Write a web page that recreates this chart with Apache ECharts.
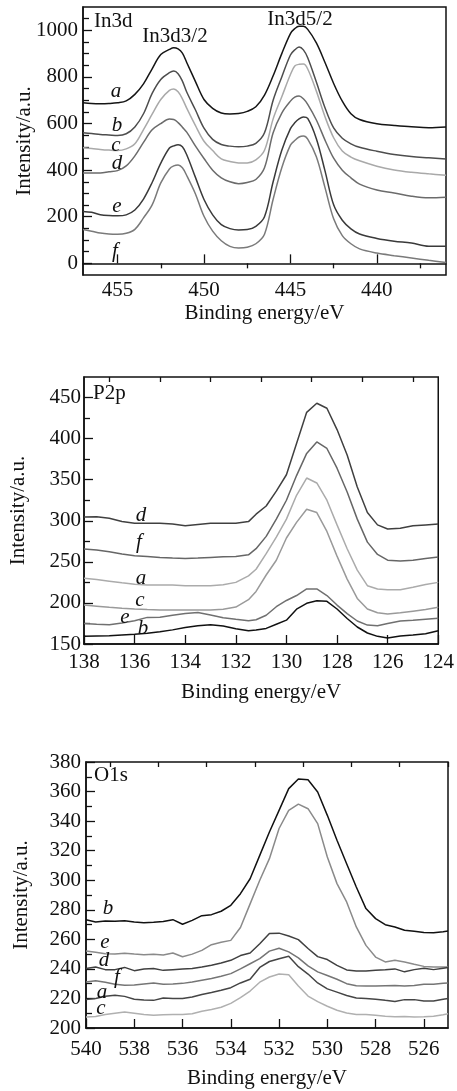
<!DOCTYPE html>
<html><head><meta charset="utf-8">
<script src="https://cdn.jsdelivr.net/npm/echarts@6/dist/echarts.min.js"></script>
<style>html,body{margin:0;padding:0;background:#fff}#c{width:457px;height:1091px}</style>
</head><body><div id="c"></div>
<script>
// ---------- Panel 1: In3d ----------
const inEnergy = [457, 456.5, 456, 455.5, 455, 454.5, 454, 453.5, 453, 452.5, 452, 451.75, 451.5, 451.25, 451, 450.5, 450, 449.5, 449, 448.5, 448, 447.5, 447, 446.5, 446, 445.5, 445, 444.75, 444.5, 444.25, 444, 443.5, 443, 442.5, 442, 441.5, 441, 440, 439, 438, 437, 436];
const inA = [689, 686, 685, 686, 689, 697, 725, 770, 835, 896, 918, 925, 920, 902, 862, 781, 703, 665, 645, 641, 643, 652, 672, 722, 805, 900, 986, 1007, 1017, 1017, 1004, 946, 862, 772, 696, 642, 617, 599, 592, 586, 582, 585];
const inB = [560, 557, 553, 551, 549, 556, 585, 642, 729, 789, 818, 825, 814, 782, 735, 659, 580, 532, 510, 503, 500, 503, 515, 560, 700, 800, 894, 916, 928, 916, 882, 778, 668, 581, 537, 513, 498, 481, 467, 458, 453, 448];
const inC = [496, 493, 489, 486, 484, 491, 513, 574, 640, 703, 742, 748, 736, 706, 666, 592, 524, 484, 448, 437, 431, 431, 444, 485, 620, 715, 810, 847, 854, 855, 834, 739, 629, 539, 482, 456, 440, 417, 401, 391, 384, 378];
const inD = [388, 388, 388, 393, 398, 418, 461, 519, 573, 600, 619, 617, 604, 584, 563, 504, 450, 400, 367, 350, 342, 347, 360, 410, 560, 645, 696, 713, 718, 706, 682, 615, 529, 451, 400, 367, 340, 315, 302, 288, 281, 284];
const inE = [223, 219, 209, 205, 204, 208, 229, 276, 347, 430, 495, 504, 509, 500, 466, 370, 274, 208, 166, 149, 143, 145, 159, 200, 350, 485, 578, 603, 620, 628, 622, 535, 397, 251, 185, 148, 126, 107, 95, 87, 73, 73];
const inF = [145, 138, 130, 126, 125, 129, 146, 195, 251, 345, 405, 418, 422, 410, 377, 299, 202, 138, 97, 73, 66, 69, 84, 125, 275, 410, 507, 527, 542, 546, 533, 457, 325, 191, 119, 84, 62, 44, 33, 23, 13, 4];
const inXLabels = [455, 450, 445, 440];
const inXMinor = [452.5, 447.5, 442.5, 437.5];
const inYLabels = [0, 200, 400, 600, 800, 1000];
const inYMinor = [50, 100, 150, 250, 300, 350, 450, 500, 550, 650, 700, 750, 850, 900, 950, 1050];

// ---------- Panel 2: P2p ----------
const pEnergy = [138, 137.5, 137, 136.5, 136, 135.5, 135, 134.5, 134, 133.5, 133, 132.5, 132, 131.5, 131.2, 130.8, 130.4, 130, 129.6, 129.2, 128.8, 128.4, 128, 127.6, 127.2, 126.8, 126.4, 126, 125.5, 125, 124.5, 124];
const pD = [304.5, 305, 303, 299, 297, 297, 297, 296, 294, 295.5, 297, 297, 297, 299, 308, 318, 336, 356, 394, 432, 443, 437, 411, 380, 341, 310, 295, 290, 291, 294, 295, 296];
const pF = [265.5, 264.3, 262.3, 259.5, 257.4, 256.6, 255.4, 254.6, 254.2, 254.6, 255.4, 256.2, 256.6, 258.5, 266, 281, 302, 325, 355, 382, 396, 388, 364, 335, 302, 274, 259, 252, 251, 252, 254, 256];
const pA = [229.9, 228.5, 226.5, 224.5, 222.7, 221.8, 221.8, 221.8, 221, 221, 221, 222, 225, 233, 241, 260, 280, 302, 331, 352, 346, 325, 295, 266, 240, 221, 217, 216, 216, 219, 222.5, 225];
const pC = [197.4, 196, 194.6, 193.4, 192.6, 192, 191.5, 191.4, 191.4, 191.4, 191.4, 192.4, 195, 204, 214, 234, 252, 279, 298, 314, 310, 287, 257, 229, 205.5, 192.6, 188, 186.5, 188, 190, 192, 194.6];
const pE = [175, 174, 173.5, 175.5, 178.4, 182.4, 182.5, 185, 187, 188.3, 185.3, 182, 180, 178.4, 179.5, 185, 195.4, 203, 209, 217, 217, 209, 197.4, 187, 178, 173, 172.3, 175, 178, 178.8, 180, 181.2];
const pB = [159.3, 159.7, 160.1, 161, 161.8, 163, 165, 167.2, 170, 172.3, 173.5, 171.8, 168.5, 166.2, 167, 169, 174, 179, 192.4, 199.5, 202.7, 202, 192.6, 181, 170.7, 163.4, 159.3, 157.3, 159.7, 161, 162.6, 166.2];
const pXLabels = [138, 136, 134, 132, 130, 128, 126, 124];
const pXMinor = [137, 135, 133, 131, 129, 127, 125];
const pYLabels = [150, 200, 250, 300, 350, 400, 450];
const pYMinor = [175, 225, 275, 325, 375, 425];

// ---------- Panel 3: O1s ----------
const oEnergy = [540, 539.6, 539.2, 538.8, 538.4, 538, 537.6, 537.2, 536.8, 536.4, 536, 535.6, 535.2, 534.8, 534.4, 534, 533.6, 533.2, 532.8, 532.4, 532, 531.6, 531.2, 530.8, 530.4, 530, 529.6, 529.2, 528.8, 528.4, 528, 527.6, 527.2, 526.8, 526.4, 526, 525.6, 525.2, 525];
const oB = [273.3, 271.8, 272.4, 272.2, 272.6, 271.8, 271.3, 271.5, 272, 273.3, 270.2, 272.8, 276, 276.7, 279, 283, 290.9, 301, 316.8, 332.6, 347.3, 362, 368.5, 368, 359.7, 343.9, 327, 311.2, 295.4, 280.8, 274, 269.9, 268.4, 266.1, 265.4, 264.7, 264.5, 265.2, 265.6];
const oE = [252.1, 251.2, 250.3, 250, 250.6, 250, 249.5, 249.9, 249.4, 250.8, 248.2, 250, 252.5, 256.4, 258, 259.3, 268, 284, 300, 314.6, 335, 347.3, 351.5, 348.4, 338.3, 315.7, 297.7, 285.3, 268.4, 255.9, 248, 244.7, 245.8, 244.7, 243.1, 241.7, 241.3, 241.3, 241.3];
const oD = [240.2, 241.3, 239.5, 239.5, 241, 238.8, 240, 240.2, 239, 239.5, 240, 240.2, 241.3, 242.5, 244, 245.8, 249, 250.8, 257, 264, 264.2, 262.3, 259.8, 253.8, 248.3, 246.3, 242.4, 239.3, 238.6, 238.6, 239, 239.4, 240, 238, 239.5, 240.5, 239.5, 240.5, 241];
const oF = [231.1, 232, 231, 229.6, 229, 229.1, 229.8, 230.4, 229.6, 229.8, 230.2, 231.1, 232.3, 233.5, 235, 236.8, 240, 243.5, 247, 252, 254, 251.5, 247.5, 242, 238, 235.5, 233, 230, 228.6, 228.4, 228.4, 228.6, 228.8, 228.4, 228.8, 229.6, 229.6, 230.2, 230.5];
const oA = [219.2, 219.9, 221.5, 222.1, 221.4, 219.5, 219, 218.7, 220.3, 219.9, 220, 221, 222.6, 224, 225.5, 227.3, 230.5, 233, 241, 245, 246.9, 248.5, 241.5, 236.5, 230.5, 226.5, 224.3, 222, 220.3, 219.9, 219.5, 218.7, 218, 219.2, 219.2, 218.2, 218.2, 219.5, 220];
const oC = [207.4, 207.8, 209.2, 210, 210.8, 210, 209.2, 208.6, 209, 209.2, 209.2, 209.7, 211.3, 212.5, 214, 216.7, 220.6, 225, 231, 234.5, 236.5, 236, 228.4, 221.6, 217.8, 214.7, 212, 210.2, 209.2, 209.2, 208.6, 208, 207.6, 207.8, 207.4, 207.6, 208, 209, 209.7];
const oXLabels = [540, 538, 536, 534, 532, 530, 528, 526];
const oXMinor = [539, 537, 535, 533, 531, 529, 527, 525];
const oYLabels = [200, 220, 240, 260, 280, 300, 320, 340, 360, 380];
const oYMinor = [210, 230, 250, 270, 290, 310, 330, 350, 370];

// ---------- Build chart ----------
const FONT = '"Liberation Serif", "Times New Roman", serif';
const INK = '#111';
const FS = 21;
const chart = echarts.init(document.getElementById('c'), null, {renderer: 'canvas'});

const panels = [
  {grid: {left: 83, top: 7, width: 363, height: 268}, xr: [436, 457], yr: [-50, 1100],
   xl: inXLabels, xm: inXMinor, yl: inYLabels, ym: inYMinor, xMargin: 5, yMargin: 5, xGap: 28, yGap: 48},
  {grid: {left: 78, top: 377, width: 363, height: 267}, xr: [124, 138], yr: [150, 475],
   xl: pXLabels, xm: pXMinor, yl: pYLabels, ym: pYMinor, xMargin: 8, yMargin: 3, xGap: 38, yGap: 55},
  {grid: {left: 86, top: 762, width: 362, height: 266}, xr: [525, 540], yr: [200, 380],
   xl: oXLabels, xm: oXMinor, yl: oYLabels, ym: oYMinor, xMargin: 11, yMargin: 5, xGap: 40, yGap: 54}
];

const fmt = v => String(v);
const grids = [], xAxes = [], yAxes = [];
panels.forEach((p, i) => {
  grids.push(Object.assign({show: true, borderColor: INK, borderWidth: 1.5, backgroundColor: '#fff'}, p.grid));
  xAxes.push({
    type: 'value', gridIndex: i, min: p.xr[0], max: p.xr[1], inverse: true,
    axisLine: {show: true, lineStyle: {color: INK, width: 1.5}},
    axisTick: {show: true, inside: true, length: 9, customValues: p.xl, lineStyle: {color: INK, width: 1.3}},
    axisLabel: {show: true, customValues: p.xl, formatter: fmt, margin: p.xMargin, color: INK, fontFamily: FONT, fontSize: FS},
    splitLine: {show: false},
    name: 'Binding energy/eV', nameLocation: 'middle', nameGap: p.xGap, nameMoveOverlap: false,
    nameTextStyle: {color: INK, fontFamily: FONT, fontSize: FS}
  });
  xAxes.push({
    type: 'value', gridIndex: i, min: p.xr[0], max: p.xr[1], inverse: true,
    axisLine: {show: false},
    axisTick: {show: true, inside: true, length: 5, customValues: p.xm, lineStyle: {color: INK, width: 1.3}},
    axisLabel: {show: false}, splitLine: {show: false}
  });
  yAxes.push({
    type: 'value', gridIndex: i, min: p.yr[0], max: p.yr[1], position: 'left',
    axisLine: {show: true, lineStyle: {color: INK, width: 1.5}},
    axisTick: {show: true, inside: true, length: 9, customValues: p.yl, lineStyle: {color: INK, width: 1.3}},
    axisLabel: {show: true, customValues: p.yl, formatter: fmt, margin: p.yMargin, color: INK, fontFamily: FONT, fontSize: FS},
    splitLine: {show: false},
    name: 'Intensity/a.u.', nameLocation: 'middle', nameGap: p.yGap, nameMoveOverlap: false,
    nameTextStyle: {color: INK, fontFamily: FONT, fontSize: FS}
  });
  yAxes.push({
    type: 'value', gridIndex: i, min: p.yr[0], max: p.yr[1], position: 'left',
    axisLine: {show: false},
    axisTick: {show: true, inside: true, length: 6, customValues: p.ym, lineStyle: {color: INK, width: 1.3}},
    axisLabel: {show: false}, splitLine: {show: false}
  });
});

function mk(xs, ys, panel, color, smooth) {
  return {
    type: 'line', xAxisIndex: panel * 2, yAxisIndex: panel * 2,
    data: xs.map((x, k) => [x, ys[k]]),
    showSymbol: false, symbol: 'none', smooth: smooth,
    lineStyle: {color: color, width: 1.5}, silent: true, animation: false, z: 3
  };
}

const series = [
  mk(inEnergy, inA, 0, '#151515', 0.35),
  mk(inEnergy, inB, 0, '#4d4d4d', 0.35),
  mk(inEnergy, inC, 0, '#a9a9a9', 0.35),
  mk(inEnergy, inD, 0, '#6b6b6b', 0.35),
  mk(inEnergy, inE, 0, '#3a3a3a', 0.35),
  mk(inEnergy, inF, 0, '#7a7a7a', 0.35),
  mk(pEnergy, pD, 1, '#404040', false),
  mk(pEnergy, pF, 1, '#666666', false),
  mk(pEnergy, pA, 1, '#ababab', false),
  mk(pEnergy, pC, 1, '#9a9a9a', false),
  mk(pEnergy, pE, 1, '#707070', false),
  mk(pEnergy, pB, 1, '#111111', false),
  mk(oEnergy, oB, 2, '#111111', false),
  mk(oEnergy, oE, 2, '#8a8a8a', false),
  mk(oEnergy, oD, 2, '#404040', false),
  mk(oEnergy, oF, 2, '#757575', false),
  mk(oEnergy, oA, 2, '#454545', false),
  mk(oEnergy, oC, 2, '#b0b0b0', false)
];

function txt(s, x, y, italic, align) {
  return {
    type: 'text', x: x, y: y, z: 10, silent: true,
    style: {text: s, fill: INK, fontFamily: FONT, fontSize: FS, fontStyle: italic ? 'italic' : 'normal',
            textAlign: align || 'center', textVerticalAlign: 'middle', align: align || 'center', verticalAlign: 'middle'}
  };
}

const graphics = [
  txt('In3d', 94, 21, false, 'left'),
  txt('In3d3/2', 175, 36, false),
  txt('In3d5/2', 300, 19, false),
  txt('a', 116, 91, true), txt('b', 117, 125, true), txt('c', 116, 145, true),
  txt('d', 117, 163, true), txt('e', 117, 206, true), txt('f', 115, 251, true),
  txt('P2p', 93, 393, false, 'left'),
  txt('d', 141, 515, true), txt('f', 139, 542, true), txt('a', 141, 578, true),
  txt('c', 140, 600, true), txt('e', 125, 617, true), txt('b', 143, 628, true),
  txt('O1s', 94, 775, false, 'left'),
  txt('b', 108, 908, true), txt('e', 105, 942, true), txt('d', 104, 960, true),
  txt('f', 117, 977, true), txt('a', 102, 992, true), txt('c', 101, 1008, true)
];

chart.setOption({
  animation: false,
  backgroundColor: '#fff',
  grid: grids, xAxis: xAxes, yAxis: yAxes, series: series,
  graphic: graphics
});
</script></body></html>
